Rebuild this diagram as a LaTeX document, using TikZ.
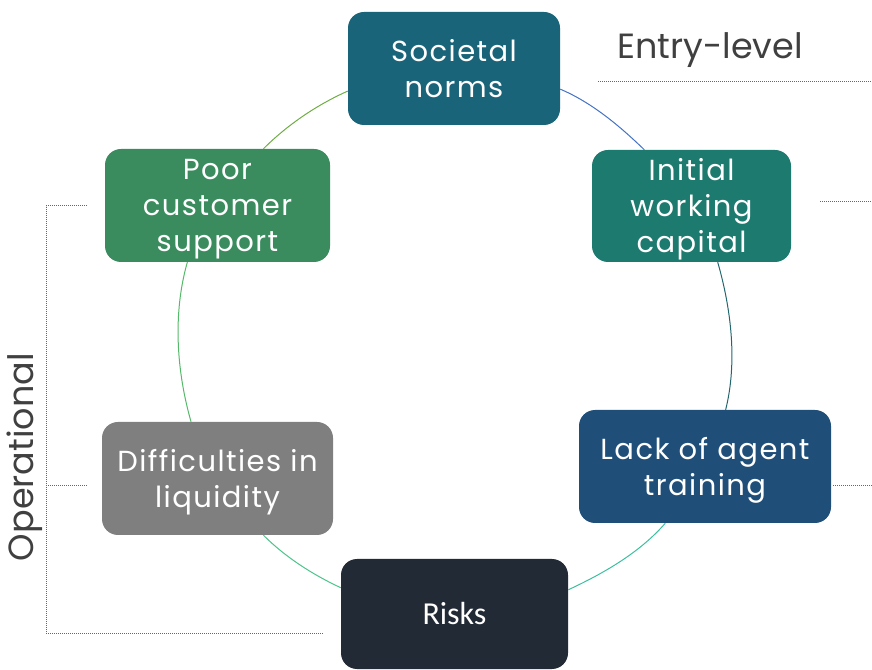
\documentclass[tikz,border=0pt]{standalone}
\usepackage{fontspec}
\setmainfont{Poppins}
\newfontfamily\gothic{Poppins}[LetterSpace=5]
\newfontfamily\carl{Carlito}
\definecolor{socc}{HTML}{1A647A}
\definecolor{inic}{HTML}{1D7A6F}
\definecolor{lackc}{HTML}{1F4E79}
\definecolor{riskc}{HTML}{222A35}
\definecolor{diffc}{HTML}{7F7F7F}
\definecolor{poorc}{HTML}{3A8C5E}
\definecolor{labc}{HTML}{404040}
\definecolor{arcA}{HTML}{4472C4}
\definecolor{arcB}{HTML}{23676E}
\definecolor{arcC}{HTML}{3CBF9E}
\definecolor{arcD}{HTML}{4CC38A}
\definecolor{arcE}{HTML}{55B96A}
\definecolor{arcF}{HTML}{70AD47}
\newcommand{\lowtext}[2]{\raisebox{#1}[\height][\depth]{\begin{tabular}{@{}c@{}}#2\end{tabular}}}
\begin{document}
\begin{tikzpicture}[x=1pt,y=1pt,
  box/.style={rounded corners=16pt, fill=#1, text=white, align=center, inner sep=0pt,
    font=\gothic\fontsize{29}{36}\selectfont},
  link/.style={line width=1pt, looseness=0.85},
  guide/.style={draw=labc!80, line width=1pt, dash pattern=on 1pt off 1pt},
  lab/.style={text=labc, inner sep=0pt, font=\fontsize{35}{42}\selectfont}]
\useasboundingbox (0,0) rectangle (872,669);
\node[box=socc, minimum width=212pt, minimum height=113pt] (soc) at (454,600.5) {Societal\\norms};
\node[box=inic, minimum width=199pt, minimum height=112pt] (ini) at (691.5,463) {\lowtext{-3pt}{Initial\\working\\capital}};
\node[box=lackc, minimum width=252pt, minimum height=113pt] (lack) at (705,202.5) {\lowtext{-4pt}{Lack of agent\\training}};
\node[box=riskc, minimum width=227pt, minimum height=110pt, font=\carl\fontsize{32}{38}\selectfont] (risk) at (454.5,55) {Risks};
\node[box=diffc, minimum width=231pt, minimum height=113pt] (diff) at (217.5,190.5) {\lowtext{-4pt}{Difficulties in\\liquidity}};
\node[box=poorc, minimum width=225pt, minimum height=113pt] (poor) at (217.5,463.5) {\lowtext{-3pt}{Poor\\customer\\support}};

\draw[link, arcA] (soc.-11) to[out=-23, in=136] (ini.130);
\draw[link, arcB] (ini.-65) to[out=-74, in=76] (lack.70);
\draw[link, arcC] (lack.-125) to[out=-131, in=25] (risk.12);
\draw[link, arcD] (risk.167) to[out=155, in=-45] (diff.-51);
\draw[link, arcE] (diff.115) to[out=106, in=-106] (poor.-118);
\draw[link, arcF] (poor.51) to[out=45, in=204] (soc.192);

\node[lab] (entry) at (710,619) {Entry-level};
\node[lab, rotate=90] (oper) at (25,212) {Operational};

\coordinate (e1) at (598,587); \coordinate (e2) at (872,587);
\coordinate (i1) at (820,467); \coordinate (i2) at (872,467);
\coordinate (l1) at (833,183); \coordinate (l2) at (872,183);
\coordinate (b1) at (87,463); \coordinate (b2) at (46,463);
\coordinate (b3) at (46,36); \coordinate (b4) at (323,36);
\coordinate (m1) at (46,183); \coordinate (m2) at (87,183);
\draw[guide] (e1) -- (e2);
\draw[guide] (i1) -- (i2);
\draw[guide] (l1) -- (l2);
\draw[guide] (b1) -- (b2) -- (b3) -- (b4);
\draw[guide] (m1) -- (m2);
\end{tikzpicture}
\end{document}
